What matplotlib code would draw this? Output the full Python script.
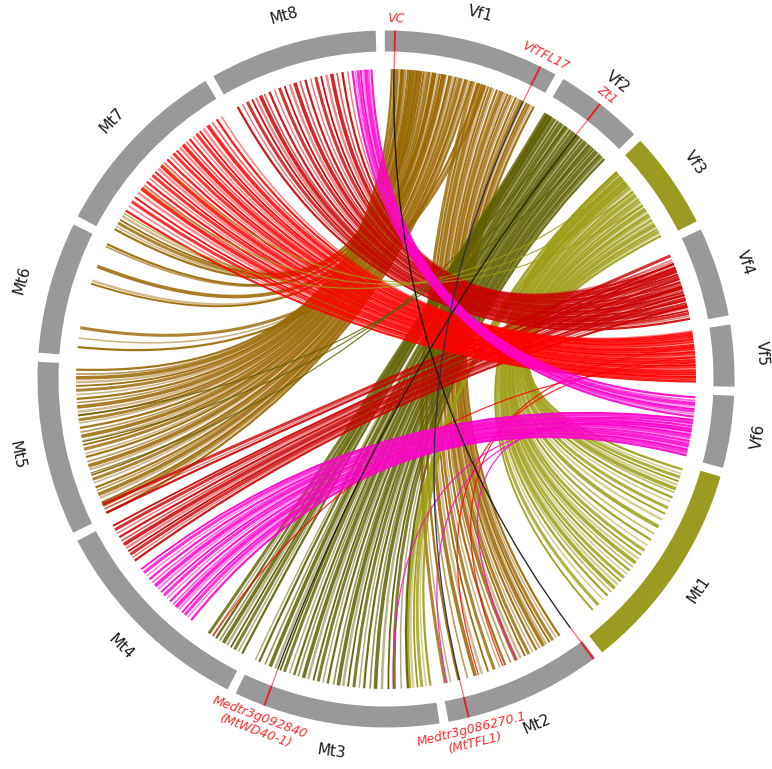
import numpy as np
import matplotlib
matplotlib.use("Agg")
import matplotlib.pyplot as plt
from matplotlib.patches import Wedge, PathPatch
from matplotlib.path import Path

# ---------------- data ----------------
chrom_names = ['Vf1', 'Vf2', 'Vf3', 'Vf4', 'Vf5', 'Vf6',
               'Mt1', 'Mt2', 'Mt3', 'Mt4', 'Mt5', 'Mt6', 'Mt7', 'Mt8']
chrom_sizes = [29.3, 14.8, 16.2, 14.9, 10.3, 12.0,
               35.4, 26.5, 34.4, 35.3, 29.0, 22.0, 31.0, 28.0]
highlight_chroms = ['Vf3', 'Mt1']

# synteny links: positions along chromosomes (same units as chrom_sizes)
vf1_mt5_a = [16.2, 15.8, 15.3, 15.0, 14.5, 14.1, 13.6, 13.2, 12.8, 12.3, 12.0, 11.4,
             11.0, 10.6, 10.2, 9.8, 9.3, 8.9, 8.5, 8.1, 7.6, 7.2, 6.8, 6.4, 6.0, 5.5,
             5.1, 4.7, 4.3, 3.9, 3.4, 3.0, 2.6, 2.2, 1.7, 1.3]
vf1_mt5_b = [0.6, 1.4, 2.1, 2.7, 3.6, 4.3, 5.1, 5.7, 6.6, 7.3, 8.1, 9.2, 9.9, 10.7,
             11.6, 12.2, 13.1, 13.9, 14.6, 15.5, 16.3, 17.1, 18.0, 18.6, 19.4, 20.1,
             21.0, 21.8, 22.5, 23.3, 24.1, 24.9, 25.6, 26.4, 27.1, 27.9]
vf1_mt6_a = [17.7, 18.2, 18.8, 10.7, 11.2, 9.2, 6.2, 6.7]
vf1_mt6_b = [1.6, 3.3, 5.2, 13.6, 14.2, 17.0, 21.0, 21.5]
vf1_mt7_a = [4.7, 5.2, 5.7, 3.2, 3.7]
vf1_mt7_b = [1.1, 1.7, 2.4, 3.1, 3.9]
vf1_mt2_a = [28.7, 28.2, 27.7, 27.2, 26.6, 26.1, 25.5, 25.0, 24.4, 23.9, 23.3, 22.8,
             22.2, 21.7, 21.2, 20.6, 20.1, 19.5, 19.0, 18.4, 17.9, 17.4, 16.9, 16.5]
vf1_mt2_b = [2.8, 3.5, 4.3, 5.0, 5.7, 6.3, 7.1, 7.8, 8.6, 9.4, 10.2, 11.1, 12.0, 13.1,
             14.2, 15.3, 16.4, 17.6, 18.8, 20.1, 21.6, 23.3, 24.8, 25.8]

vf2_mt3_a = [14.2, 13.8, 13.4, 13.0, 12.6, 12.2, 11.8, 11.4, 11.0, 10.6, 10.3, 9.9,
             9.5, 9.1, 8.7, 8.3, 7.9, 7.5, 7.1, 6.7, 6.3, 5.9, 5.5, 5.1, 4.7, 4.3,
             3.9, 3.5, 3.1, 2.7]
vf2_mt3_b = [4.8, 6.0, 7.3, 8.4, 9.6, 10.8, 11.8, 12.9, 13.8, 14.8, 15.9, 16.8, 17.7,
             18.6, 19.7, 20.6, 21.5, 22.4, 23.4, 24.3, 25.3, 26.1, 27.0, 28.0, 28.8,
             29.8, 30.8, 31.8, 33.0, 33.8]
vf2_mt4_a = [2.4, 2.1, 1.8, 1.6, 1.4, 1.2, 1.0, 0.8, 0.6, 0.4]
vf2_mt4_b = [0.6, 1.4, 2.2, 3.0, 3.8, 4.6, 5.4, 6.2, 7.0, 7.8]
vf2_mt5_a = [5.0, 8.0, 11.0]
vf2_mt5_b = [8.5, 14.5, 19.5]

vf3_mt1_a = [15.6, 15.1, 14.7, 14.2, 13.7, 13.3, 12.8, 12.3, 11.9, 11.4, 11.0, 10.5,
             10.0, 9.6, 9.1, 8.7, 8.2, 7.7, 7.3, 6.8, 6.3, 5.9, 5.4, 5.0, 4.5, 4.0,
             3.6, 3.1, 2.6, 2.2, 1.7, 1.2]
vf3_mt1_b = [0.7, 1.5, 2.2, 3.0, 3.7, 4.5, 5.2, 6.2, 7.1, 8.3, 9.5, 10.7, 12.2, 13.7,
             15.0, 16.2, 17.3, 18.3, 19.2, 20.1, 21.0, 21.9, 22.7, 23.6, 24.5, 25.3,
             26.2, 27.1, 28.1, 29.2, 30.5, 31.9]
vf3_mt3_a = [1.3, 1.8, 2.4, 3.0, 3.6, 4.2]
vf3_mt3_b = [0.6, 1.4, 2.2, 3.0, 3.8, 4.5]
vf3_mt7_a = [3.0, 6.0, 9.0]
vf3_mt7_b = [4.5, 10.5, 16.0]

vf4_mt8_a = [14.2, 13.7, 13.2, 12.7, 12.2, 11.7, 11.2, 10.7, 10.2, 9.7, 9.2, 8.7, 8.2,
             7.7, 7.2, 6.7, 6.2, 5.7, 5.2, 4.7, 4.2, 3.7, 3.2]
vf4_mt8_b = [1.1, 2.1, 3.1, 4.1, 4.9, 5.8, 6.6, 7.6, 8.6, 9.6, 10.6, 11.6, 12.6, 13.6,
             14.6, 15.6, 16.6, 17.6, 18.6, 19.6, 20.6, 21.6, 22.6]
vf4_mt4_a = [11.9, 11.2, 10.4, 9.7, 8.9, 8.2, 7.4, 6.6, 5.9, 5.1, 4.4]
vf4_mt4_b = [27.1, 27.8, 28.5, 29.2, 29.9, 30.7, 31.5, 32.3, 33.1, 33.9, 34.7]
vf4_mt5_a = [3.6, 2.8, 2.0]
vf4_mt5_b = [0.6, 1.4, 2.3]

vf5_mt7_a = [9.5, 9.2, 8.9, 8.6, 8.3, 8.0, 7.7, 7.4, 7.0, 6.7, 6.4, 6.0, 5.7, 5.4, 5.0,
             4.7, 4.3, 4.0, 3.7, 3.3, 3.0, 2.7, 2.3, 2.0, 1.6, 1.3, 1.0, 0.7, 0.4, 0.1]
vf5_mt7_b = [5.1, 6.1, 7.1, 8.1, 9.1, 10.1, 10.9, 11.7, 12.5, 13.3, 14.1, 14.9, 15.7,
             16.5, 17.3, 18.1, 18.9, 19.7, 20.5, 21.3, 22.1, 22.9, 23.7, 24.5, 25.3,
             26.1, 27.1, 28.1, 29.1, 30.1]
vf5_mt2_a = [3.0, 5.0]
vf5_mt2_b = [14.7, 19.5]
vf5_mt4_a = [6.0]
vf5_mt4_b = [6.9]

vf6_mt4_a = [11.5, 11.2, 10.8, 10.4, 10.0, 9.6, 9.2, 8.8, 8.4, 8.0, 7.6, 7.2, 6.8, 6.4,
             6.0, 5.6, 5.2, 4.8]
vf6_mt4_b = [11.9, 12.7, 13.4, 14.1, 14.9, 15.6, 16.3, 17.1, 17.9, 18.7, 19.5, 20.3,
             21.1, 21.9, 22.7, 23.5, 24.3, 25.1]
vf6_mt8_a = [4.2, 3.7, 3.2, 2.8, 2.3, 1.8, 1.2, 0.6]
vf6_mt8_b = [23.5, 24.0, 24.5, 25.0, 25.5, 26.0, 26.5, 27.0]
vf6_mt2_a = [5.5, 7.0]
vf6_mt2_b = [12.0, 25.5]
vf6_mt3_a = [6.5]
vf6_mt3_b = [7.5]

# highlighted genes and the links between them
gene_labels = ['VC', 'VfTFL17', 'Zt1', 'Medtr3g092840\n(MtWD40-1)',
               'Medtr3g086270.1\n(MtTFL1)', '']
gene_chroms = ['Vf1', 'Vf1', 'Vf2', 'Mt3', 'Mt2', 'Mt2']
gene_pos = [1.7, 26.5, 7.3, 29.3, 23.1, 0.3]
gene_link_src = [0, 1, 2]
gene_link_dst = [5, 4, 3]

# ---------------- layout ----------------
GAP = 1.5
START = -0.2
R_OUT, R_IN, R_LINK, R_LABEL = 348.5, 327.5, 310.0, 377.0

total = sum(chrom_sizes) + GAP * len(chrom_sizes)
deg_per_unit = 360.0 / total
starts = {}
acc = START
for n, s in zip(chrom_names, chrom_sizes):
    starts[n] = acc
    acc += (s + GAP) * deg_per_unit
size_of = dict(zip(chrom_names, chrom_sizes))


def bearing(ch, p):
    return starts[ch] + p * deg_per_unit


def xy(b, r):
    t = np.deg2rad(b)
    return r * np.sin(t), r * np.cos(t)


def text_rot(b):
    b = b % 360
    return 180 - b if 90 < b < 270 else -b


fig = plt.figure(figsize=(7.72, 7.69), dpi=100)
ax = fig.add_axes([0, 0, 1, 1])
ax.set_xlim(-386, 386)
ax.set_ylim(-390, 379)
ax.set_aspect('equal')
ax.axis('off')

colors = {'brown': '#996600', 'darkolive': '#5f5f00', 'olive': '#9c9c14',
          'darkred': '#cc0000', 'red': '#ff0000', 'magenta': '#ff00cc'}

bundles = [
    ('Vf1', 'Mt5', vf1_mt5_a, vf1_mt5_b, 'brown', 1),
    ('Vf1', 'Mt6', vf1_mt6_a, vf1_mt6_b, 'brown', 1),
    ('Vf1', 'Mt7', vf1_mt7_a, vf1_mt7_b, 'brown', 1),
    ('Vf1', 'Mt2', vf1_mt2_a, vf1_mt2_b, 'brown', 2),
    ('Vf3', 'Mt1', vf3_mt1_a, vf3_mt1_b, 'olive', 2),
    ('Vf3', 'Mt3', vf3_mt3_a, vf3_mt3_b, 'olive', 2),
    ('Vf3', 'Mt7', vf3_mt7_a, vf3_mt7_b, 'olive', 0),
    ('Vf2', 'Mt3', vf2_mt3_a, vf2_mt3_b, 'darkolive', 3),
    ('Vf2', 'Mt4', vf2_mt4_a, vf2_mt4_b, 'darkolive', 3),
    ('Vf2', 'Mt5', vf2_mt5_a, vf2_mt5_b, 'darkolive', 0),
    ('Vf4', 'Mt8', vf4_mt8_a, vf4_mt8_b, 'darkred', 4),
    ('Vf4', 'Mt4', vf4_mt4_a, vf4_mt4_b, 'darkred', 4),
    ('Vf4', 'Mt5', vf4_mt5_a, vf4_mt5_b, 'darkred', 4),
    ('Vf5', 'Mt7', vf5_mt7_a, vf5_mt7_b, 'red', 5),
    ('Vf5', 'Mt2', vf5_mt2_a, vf5_mt2_b, 'red', 0),
    ('Vf5', 'Mt4', vf5_mt4_a, vf5_mt4_b, 'red', 0),
    ('Vf6', 'Mt8', vf6_mt8_a, vf6_mt8_b, 'magenta', 6),
    ('Vf6', 'Mt4', vf6_mt4_a, vf6_mt4_b, 'magenta', 6),
    ('Vf6', 'Mt2', vf6_mt2_a, vf6_mt2_b, 'magenta', 0),
    ('Vf6', 'Mt3', vf6_mt3_a, vf6_mt3_b, 'magenta', 0),
]

alpha_cycle = [0.9, 0.5, 0.8, 0.95, 0.45, 0.85, 0.65]
lw_cycle = [1.6, 1.1, 2.2, 1.3, 1.8, 2.6, 1.2]


def draw_link(ch1, p1, ch2, p2, color, lw, alpha, z):
    x1, y1 = xy(bearing(ch1, p1), R_LINK)
    x2, y2 = xy(bearing(ch2, p2), R_LINK)
    path = Path([(x1, y1), (0, 0), (x2, y2)],
                [Path.MOVETO, Path.CURVE3, Path.CURVE3])
    ax.add_patch(PathPatch(path, fill=False, edgecolor=color, lw=lw,
                           alpha=alpha, zorder=z, capstyle='butt'))


for ch1, ch2, pa, pb, ckey, z in bundles:
    thin = (z == 0)
    for i, (a, b) in enumerate(zip(pa, pb)):
        if thin:
            lw, al = 0.9, 0.8
        else:
            lw, al = lw_cycle[i % len(lw_cycle)], alpha_cycle[i % len(alpha_cycle)]
        draw_link(ch1, a, ch2, b, colors[ckey], lw, al, 2 + z if z else 8)

# gene-to-gene links (black)
gene_link_colors = ['#111111', '#2a2a48', '#1a1a00']
for s, d, c in zip(gene_link_src, gene_link_dst, gene_link_colors):
    draw_link(gene_chroms[s], gene_pos[s], gene_chroms[d], gene_pos[d], c, 1.0, 0.9, 10)

# ---------------- ideogram ----------------
for n in chrom_names:
    b1 = starts[n]
    b2 = b1 + size_of[n] * deg_per_unit
    fc = '#9b9b21' if n in highlight_chroms else '#999999'
    ax.add_patch(Wedge((0, 0), R_OUT, 90 - b2, 90 - b1, width=R_OUT - R_IN,
                       facecolor=fc, edgecolor='none', zorder=12))
    bm = (b1 + b2) / 2
    x, y = xy(bm, R_LABEL)
    ax.text(x, y, n, ha='center', va='center', rotation=text_rot(bm),
            rotation_mode='anchor', fontsize=11, color='#1a1a1a',
            family='DejaVu Sans', zorder=13)

# ---------------- gene markers ----------------
for lab, ch, p in zip(gene_labels, gene_chroms, gene_pos):
    b = bearing(ch, p)
    xo, yo = xy(b, R_OUT)
    xi, yi = xy(b, R_IN)
    xl, yl = xy(b, R_LINK)
    ax.plot([xo, xi], [yo, yi], color='#e8202a', lw=1.4, zorder=13,
            solid_capstyle='butt')
    ax.plot([xi, xl], [yi, yl], color='#ff6a6a', lw=0.9, zorder=13,
            solid_capstyle='butt')
    if lab:
        rr = 368 if '\n' in lab else 360
        x, y = xy(b, rr)
        ax.text(x, y, lab, ha='center', va='center', rotation=text_rot(b),
                rotation_mode='anchor', fontsize=9, color='#ff2b2b',
                style='italic', family='DejaVu Sans', multialignment='center',
                linespacing=1.15, zorder=13)

fig.savefig('out.png', dpi=100)
